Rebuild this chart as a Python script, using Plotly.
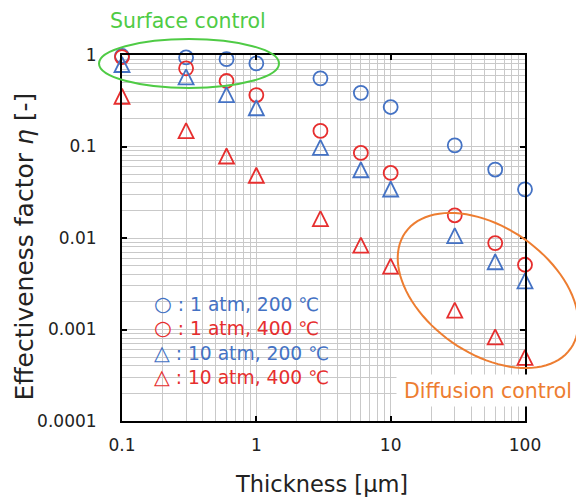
import numpy as np
import plotly.graph_objects as go

# Film thickness [um] and effectiveness factors for each condition
thickness_um = [0.1, 0.3, 0.6, 1, 3, 6, 10, 30, 60, 100]
eta_1atm_200C = [0.975, 0.94, 0.90, 0.81, 0.556, 0.386, 0.27, 0.103, 0.056, 0.034]
eta_1atm_400C = [0.95, 0.715, 0.52, 0.365, 0.148, 0.085, 0.0514, 0.0177, 0.0088, 0.0051]
eta_10atm_200C = [0.787, 0.578, 0.369, 0.265, 0.098, 0.0557, 0.0343, 0.0106, 0.0055, 0.0034]
eta_10atm_400C = [0.354, 0.149, 0.0787, 0.0485, 0.0163, 0.00836, 0.00492, 0.00163, 0.00083, 0.000496]

x_tick_vals = [0.1, 1, 10, 100]
x_tick_text = ["0.1", "1", "10", "100"]
y_tick_vals = [0.0001, 0.001, 0.01, 0.1, 1]
y_tick_text = ["0.0001", "0.001", "0.01", "0.1", "1"]

legend_symbols = ["○", "○", "△", "△"]
legend_labels = ["1 atm, 200 ℃", "1 atm, 400 ℃", "10 atm, 200 ℃", "10 atm, 400 ℃"]

x_title = "Thickness [μm]"
y_title = "Effectiveness factor <i>η</i> [-]"

BLUE = "#4472c4"
RED = "#e62e2e"
ORANGE = "#ed7d31"
GREEN = "#4fcb45"
GRID = "#c9c9c9"
TEXT = "#222222"
FONT = "DejaVu Sans"

W, H = 576, 497
L, R, T, B = 122, 525, 55, 421  # plot-area edges in px


def paper(px, py):
    return (px - L) / (R - L), (B - py) / (B - T)


fig = go.Figure()

CIRCLE_SIZE = 14
TRI_SIZE = 15


def add_series(y, color, kind):
    if kind == "circle":
        marker = dict(symbol="circle-open", size=CIRCLE_SIZE, color=color,
                      line=dict(width=1.8, color=color))
    else:
        # upward triangle, bounding box centred on the data point
        marker = dict(symbol="arrow-down-open", angle=180, standoff=TRI_SIZE / 2,
                      size=TRI_SIZE, color=color, line=dict(width=1.8, color=color))
    fig.add_trace(go.Scatter(x=thickness_um, y=y, mode="markers", marker=marker,
                             cliponaxis=False, showlegend=False, hoverinfo="x+y"))


add_series(eta_1atm_200C, BLUE, "circle")
add_series(eta_1atm_400C, RED, "circle")
add_series(eta_10atm_200C, BLUE, "triangle")
add_series(eta_10atm_400C, RED, "triangle")

minor_x = [k * 10.0 ** e for e in range(-1, 2) for k in range(2, 10)]
minor_y = [k * 10.0 ** e for e in range(-4, 0) for k in range(2, 10)]

axis_common = dict(
    type="log", showline=True, linecolor="black", linewidth=2, mirror="ticks",
    ticks="inside", ticklen=5, tickwidth=2, tickcolor="black",
    showgrid=True, gridcolor=GRID, gridwidth=1.3, zeroline=False, automargin=False,
    tickfont=dict(family=FONT, size=17, color=TEXT),
)

fig.update_xaxes(
    **axis_common, range=[-1, 2], tickvals=x_tick_vals, ticktext=x_tick_text,
    minor=dict(tickvals=minor_x, showgrid=True, gridcolor=GRID, gridwidth=1.3, ticks=""),
    ticklabelstandoff=8,
)
fig.update_yaxes(
    **axis_common, range=[-4, 0], tickvals=y_tick_vals, ticktext=y_tick_text,
    minor=dict(tickvals=minor_y, showgrid=True, gridcolor=GRID, gridwidth=1.3, ticks=""),
    ticklabelstandoff=20,
)

# White panel behind the legend text (covers gridlines only)
bx0, by0 = paper(145, 405)
bx1, by1 = paper(345, 291)
shapes = [dict(type="rect", xref="paper", yref="paper", x0=bx0, y0=by0, x1=bx1, y1=by1,
               fillcolor="white", line=dict(width=0), layer="between")]

# Ellipse around the surface-controlled points
gx0, gy0 = paper(99, 88)
gx1, gy1 = paper(279, 39)
shapes.append(dict(type="circle", xref="paper", yref="paper", x0=gx0, y0=gy0, x1=gx1, y1=gy1,
                   line=dict(color=GREEN, width=2), layer="above"))

# Tilted ellipse around the diffusion-controlled points
cx, cy, a, b, theta = 488, 290.5, 101, 63, np.deg2rad(35)
t = np.linspace(0, 2 * np.pi, 97)
ex = cx + a * np.cos(theta) * np.cos(t) - b * np.sin(theta) * np.sin(t)
ey = cy + a * np.sin(theta) * np.cos(t) + b * np.cos(theta) * np.sin(t)
pts = [paper(px, py) for px, py in zip(ex, ey)]
path = "M " + " L ".join(f"{u:.5f},{v:.5f}" for u, v in pts) + " Z"
shapes.append(dict(type="path", xref="paper", yref="paper", path=path,
                   line=dict(color=ORANGE, width=2), layer="above"))

legend_colors = [BLUE, RED, BLUE, RED]


def big(s):
    return f'<span style="font-size:20.5px">{s}</span>'


legend_text = "<br>".join(
    f'<span style="color:{c}">{big(s)} : {lab}</span>'
    for s, lab, c in zip(legend_symbols, legend_labels, legend_colors)
)

lx, ly = paper(153, 291)
sx, sy = paper(188, 21)
dx, dy = paper(396, 374)
xtx, xty = paper(321, 484)
ytx, yty = paper(24, 246.5)
annotations = [
    dict(text=legend_text, xref="paper", yref="paper", x=lx, y=ly, xanchor="left",
         yanchor="top", showarrow=False, align="left", borderpad=0,
         font=dict(family=FONT, size=18.7)),
    dict(text="Surface control", xref="paper", yref="paper", x=sx, y=sy, xanchor="center",
         yanchor="middle", showarrow=False, font=dict(family=FONT, size=20.5, color=GREEN)),
    dict(text="Diffusion control", xref="paper", yref="paper", x=dx, y=dy, xanchor="left",
         yanchor="top", showarrow=False, width=178, height=27, borderpad=2,
         bgcolor="white", font=dict(family=FONT, size=20.5, color=ORANGE)),
    # axis titles
    dict(text=x_title, xref="paper", yref="paper", x=xtx, y=xty, xanchor="center",
         yanchor="middle", showarrow=False, font=dict(family=FONT, size=22.5, color=TEXT)),
    dict(text=y_title, xref="paper", yref="paper", x=ytx, y=yty, xanchor="center",
         yanchor="middle", textangle=-90, showarrow=False,
         font=dict(family=FONT, size=25, color=TEXT)),
]

fig.update_layout(
    width=W, height=H, margin=dict(l=L, r=W - R, t=T, b=H - B),
    paper_bgcolor="white", plot_bgcolor="white",
    shapes=shapes, annotations=annotations, showlegend=False,
    font=dict(family=FONT),
)

fig.write_html("out.html")
